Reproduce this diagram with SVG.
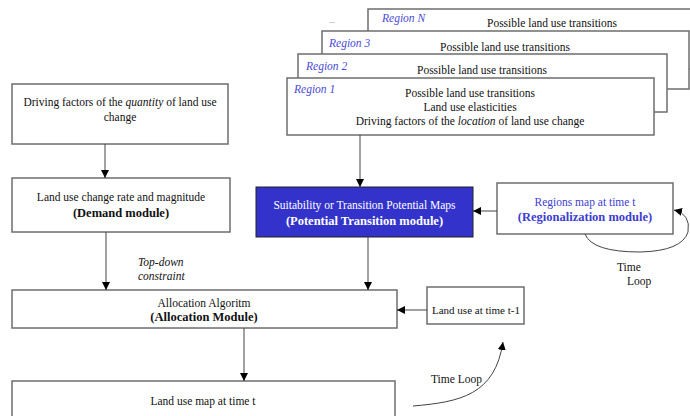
<svg xmlns="http://www.w3.org/2000/svg" width="690" height="416" viewBox="0 0 690 416">
<defs>
<style>
.box{fill:#fff;stroke:#6e6e6e;stroke-width:1.5}
.t{font-family:"Liberation Serif","Times New Roman",serif;font-size:11.5px;fill:#111}
.b{font-weight:bold;font-size:12.5px}
.rl{font-family:"Liberation Serif","Times New Roman",serif;font-size:11.5px;font-style:italic;fill:#4a4ad6}
.c{text-anchor:middle}
.ln{stroke:#444;stroke-width:1;fill:none}
</style>
<marker id="ah" viewBox="0 0 8 8" refX="8" refY="4" markerWidth="8" markerHeight="8" markerUnits="userSpaceOnUse" orient="auto">
<path d="M0,0 L8,4 L0,8 z" fill="#000"/>
</marker>
</defs>
<rect width="690" height="416" fill="#fff"/>

<g id="regionN">
<rect class="box" x="368" y="9" width="330" height="60"/>
<text class="rl" x="382" y="22">Region N</text>
<text class="t c" x="552" y="27">Possible land use transitions</text>
</g>
<text class="t" x="329" y="23" style="font-size:8px;fill:#6a6ab0">...</text>
<g id="region3">
<rect class="box" x="322" y="31" width="367" height="58"/>
<text class="rl" x="329" y="47">Region 3</text>
<text class="t c" x="505" y="51">Possible land use transitions</text>
</g>
<g id="region2">
<rect class="box" x="298" y="54" width="369" height="58"/>
<text class="rl" x="306" y="70">Region 2</text>
<text class="t c" x="482" y="74">Possible land use transitions</text>
</g>
<g id="region1">
<rect class="box" x="287" y="78" width="367" height="57"/>
<text class="rl" x="294" y="93">Region 1</text>
<text class="t c" x="470" y="97">Possible land use transitions</text>
<text class="t c" x="470" y="111">Land use elasticities</text>
<text class="t c" x="470" y="125">Driving factors of the <tspan font-style="italic">location</tspan> of land use change</text>
</g>

<g id="drivingQuantity">
<rect class="box" x="12" y="84" width="216" height="60"/>
<text class="t c" x="120" y="106">Driving factors of the <tspan font-style="italic">quantity</tspan> of land use</text>
<text class="t c" x="120" y="121">change</text>
</g>

<g id="demand">
<rect class="box" x="12" y="178" width="218" height="54"/>
<text class="t c" x="121" y="201">Land use change rate and magnitude</text>
<text class="t b c" x="121" y="217">(Demand module)</text>
</g>

<g id="potential">
<rect x="256" y="187" width="217" height="50" fill="#3333cc" stroke="#222" stroke-width="1"/>
<text class="t c" x="364.5" y="209" style="fill:#fff">Suitability or Transition Potential Maps</text>
<text class="t b c" x="364.5" y="225" style="fill:#fff">(Potential Transition module)</text>
</g>

<g id="regionalization">
<rect class="box" x="497" y="183" width="176" height="51"/>
<text class="t c" x="585" y="206" style="fill:#3d3dd0">Regions map at time t</text>
<text class="t b c" x="585" y="221" style="fill:#3d3dd0">(Regionalization module)</text>
</g>

<g id="allocation">
<rect class="box" x="12" y="290" width="385" height="38"/>
<text class="t c" x="204" y="307">Allocation Algoritm</text>
<text class="t b c" x="204" y="321">(Allocation Module)</text>
</g>

<g id="landuseT1">
<rect class="box" x="427" y="287" width="97" height="37"/>
<text class="t" x="432" y="314" style="font-size:11px">Land use at time t-1</text>
</g>

<g id="landuseMap">
<rect class="box" x="12" y="381" width="383" height="40"/>
<text class="t c" x="203" y="405">Land use map at time t</text>
</g>

<g id="connectors">
<line class="ln" x1="105" y1="144" x2="105" y2="178" marker-end="url(#ah)"/>
<line class="ln" x1="106" y1="232" x2="106" y2="290" marker-end="url(#ah)"/>
<line class="ln" x1="360" y1="135" x2="360" y2="187" marker-end="url(#ah)"/>
<line class="ln" x1="368" y1="237" x2="368" y2="290" marker-end="url(#ah)"/>
<line class="ln" x1="244" y1="328" x2="244" y2="381" marker-end="url(#ah)"/>
<line class="ln" x1="497" y1="211" x2="473" y2="211" marker-end="url(#ah)"/>
<line class="ln" x1="427" y1="310" x2="397" y2="310" marker-end="url(#ah)"/>
<path class="ln" d="M585,234 Q592,252 640,252 Q682,251 688,232 Q691,214 674,210" marker-end="url(#ah)"/>
<path class="ln" d="M413,406 C460,402 495,395 503,342" marker-end="url(#ah)"/>
<text class="t" x="138" y="266" font-style="italic">Top-down</text>
<text class="t" x="138" y="280" font-style="italic">constraint</text>
<text class="t" x="617" y="271">Time</text>
<text class="t" x="627" y="285">Loop</text>
<text class="t" x="431" y="383">Time Loop</text>
</g>
</svg>
